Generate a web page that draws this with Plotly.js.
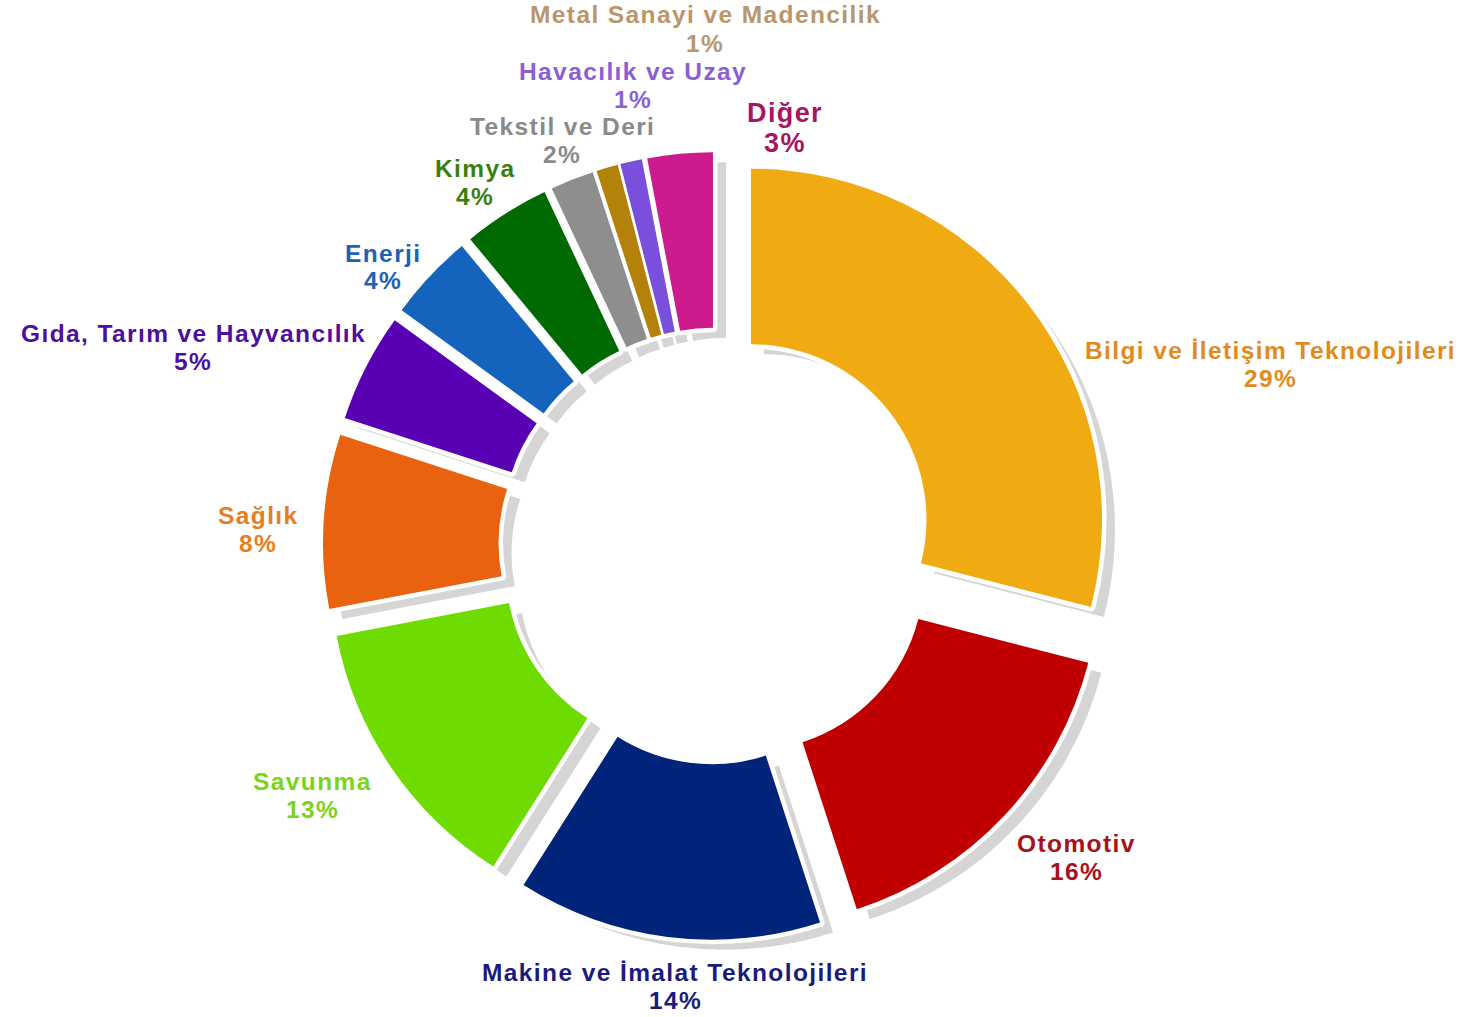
<!DOCTYPE html>
<html>
<head>
<meta charset="utf-8">
<script src="https://cdn.plot.ly/plotly-3.0.1.min.js"></script>
<style>
  html, body { margin: 0; padding: 0; background: #ffffff; }
  #chart { width: 1465px; height: 1017px; }
  text.annotation-text { letter-spacing: 1.4px; }
</style>
</head>
<body>
<div id="chart"></div>
<script>
// ---- data ----
const categories = [
  "Bilgi ve İletişim Teknolojileri",
  "Otomotiv",
  "Makine ve İmalat Teknolojileri",
  "Savunma",
  "Sağlık",
  "Gıda, Tarım ve Hayvancılık",
  "Enerji",
  "Kimya",
  "Tekstil ve Deri",
  "Metal Sanayi ve Madencilik",
  "Havacılık ve Uzay",
  "Diğer"
];
const shares = [29, 16, 14, 13, 8, 5, 4, 4, 2, 1, 1, 3];

// ---- styles ----
const sliceColors = [
  "#F1AB12", "#C00000", "#002479", "#6EDC00", "#E96210", "#5A00B4",
  "#1464BE", "#006A00", "#8E8E8E", "#B4820A", "#7A4FDC", "#CC1B8C"
];
const labelColors = [
  "#E08B1E", "#A5121C", "#1B1B7E", "#7BD31A", "#E67E22", "#4E0FA0",
  "#1C62B8", "#3A7F0D", "#8A8A8A", "#B9966C", "#8B5FD3", "#A8155F"
];

// ---- layout config (pixel positions of label lines: x, name y, percent y) ----
const W = 1465, H = 1017;
const labelPos = [
  [1270, 350, 378],
  [1076, 843, 871],
  [675, 972, 1000],
  [312, 781, 809],
  [258, 515, 543],
  [193, 333, 361],
  [383, 253, 281],
  [475, 168, 196],
  [562, 127, 155],
  [705, 15, 43],
  [633, 71, 99],
  [785, 113, 143]
];
const labelSizes = [24.5, 24.5, 24.5, 24.5, 24.5, 24.5, 24.5, 24.5, 24.5, 24.5, 24.5, 27];

const cx = 717, cy = 546, box = 394;     // pie center & half box (px)
const pullFrac = 0.1225;
const holeFrac = 0.5;
const shadowDx = 13, shadowDy = 10;

function domainAt(dx, dy) {
  return {
    x: [(cx + dx - box) / W, (cx + dx + box) / W],
    y: [(H - (cy + dy) - box) / H, (H - (cy + dy) + box) / H]
  };
}

const pulls = shares.map(() => pullFrac);

const base = {
  type: "pie",
  values: shares,
  labels: categories,
  sort: false,
  direction: "clockwise",
  rotation: 0,
  hole: holeFrac,
  pull: pulls,
  textinfo: "none",
  hoverinfo: "label+percent",
  showlegend: false
};

const shadow = Object.assign({}, base, {
  domain: domainAt(shadowDx, shadowDy),
  marker: { colors: shares.map(() => "#d5d5d5"), line: { width: 0 } },
  hoverinfo: "skip"
});
const halo = Object.assign({}, base, {
  domain: domainAt(0, 0),
  marker: { colors: shares.map(() => "#ffffff"), line: { color: "#ffffff", width: 9 } },
  hoverinfo: "skip"
});
const main = Object.assign({}, base, {
  domain: domainAt(0, 0),
  marker: { colors: sliceColors, line: { width: 0 } }
});

const annotations = [];
categories.forEach((name, i) => {
  const p = labelPos[i];
  const f = { family: "Liberation Sans, Arial, sans-serif", size: labelSizes[i], color: labelColors[i], weight: "bold" };
  annotations.push({
    xref: "paper", yref: "paper", x: p[0] / W, y: 1 - p[1] / H,
    xanchor: "center", yanchor: "middle", showarrow: false, borderpad: 0,
    text: "<b>" + name + "</b>", font: f
  });
  annotations.push({
    xref: "paper", yref: "paper", x: p[0] / W, y: 1 - p[2] / H,
    xanchor: "center", yanchor: "middle", showarrow: false, borderpad: 0,
    text: "<b>" + shares[i] + "%</b>", font: f
  });
});

const layout = {
  width: W, height: H,
  margin: { l: 0, r: 0, t: 0, b: 0 },
  paper_bgcolor: "#ffffff",
  plot_bgcolor: "#ffffff",
  showlegend: false,
  annotations: annotations
};

Plotly.newPlot("chart", [shadow, halo, main], layout, { displayModeBar: false, staticPlot: true });
</script>
</body>
</html>
